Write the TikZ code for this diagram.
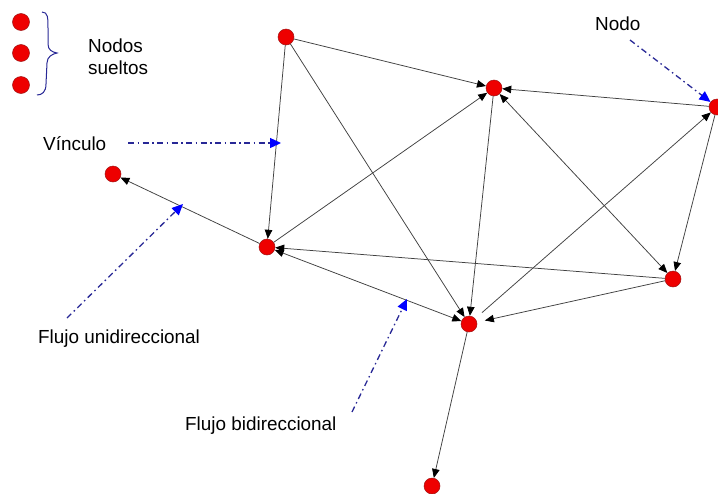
\documentclass[tikz,border=0pt]{standalone}
\usepackage{fontspec}
\setmainfont{Liberation Sans}
\usetikzlibrary{arrows.meta}
\definecolor{nodered}{RGB}{238,0,0}
\definecolor{nodeedge}{RGB}{160,20,20}
\definecolor{notecol}{RGB}{40,40,150}
\definecolor{tipblue}{RGB}{0,0,255}
\begin{document}
\begin{tikzpicture}[x=1pt,y=-1pt,
  vertex/.style={circle,fill=nodered,draw=nodeedge,line width=0.5pt,minimum size=16pt,inner sep=0pt},
  link/.style={draw=black!75,line width=0.75pt,-{Triangle[length=9pt,width=7.5pt,color=black]}},
  both/.style={draw=black!75,line width=0.75pt,{Triangle[length=9pt,width=7.5pt,color=black]}-{Triangle[length=9pt,width=7.5pt,color=black]}},
  note/.style={draw=notecol,line width=1.3pt,dash pattern=on 6pt off 3.5pt on 1.5pt off 3.5pt,-{Triangle[length=11pt,width=10pt,color=tipblue]}},
  txt/.style={font=\fontsize{18.9}{22}\selectfont,inner sep=0pt,anchor=base west}
]
\fill[white] (0,0) rectangle (718,493);
\useasboundingbox (0,0) rectangle (718,493);

% legend: loose nodes and brace
\node[vertex,minimum size=17pt] (l1) at (21,22) {};
\node[vertex,minimum size=17pt] (l2) at (21,53) {};
\node[vertex,minimum size=17pt] (l3) at (21,85) {};
\draw[notecol,line width=1pt] (42,12) .. controls (48,12) and (48,18) .. (48,28) -- (48,44)
  .. controls (48,50) and (52,52) .. (57,53) .. controls (52,54) and (47,57) .. (47,63)
  -- (46,84) .. controls (46,92) and (42,95) .. (37,95);
\node[txt] (loose1) at (88,52) {Nodos};
\node[txt] (loose2) at (88,74) {sueltos};

% network nodes
\node[vertex] (A) at (286,37) {};
\node[vertex] (B) at (494,88) {};
\node[vertex] (C) at (717,107) {};
\node[vertex] (D) at (267,247) {};
\node[vertex] (E) at (113,174) {};
\node[vertex] (F) at (673,279) {};
\node[vertex] (G) at (469,324) {};
\node[vertex] (H) at (432,486) {};

% links
\draw[link] (A) -- (B);
\draw[link] (A) -- (D);
\draw[link] (A) -- (G);
\draw[link] (C) -- (B);
\draw[link] (D) -- (B);
\draw[link] (B) -- (G);
\draw[both] (B) -- (F);
\draw[link] (C) -- (F);
\draw[link,shorten <=9pt] (G) -- (C);
\draw[link] (F) -- (D);
\draw[both] (D) -- (G);
\draw[link] (D) -- (E);
\draw[link,shorten >=8pt] (F) -- (G);
\draw[link] (G) -- (H);

% annotations
\node[txt] (tnodo) at (595,30) {Nodo};
\node[txt] (tvinc) at (43,150) {Vínculo};
\node[txt] (tuni) at (38,343) {Flujo unidireccional};
\node[txt] (tbi) at (185,430) {Flujo bidireccional};

\coordinate (nodoS) at (630,40);
\coordinate (vincS) at (128,143);
\coordinate (vincE) at (281,143);
\coordinate (uniS) at (67,318);
\coordinate (uniE) at (183,204);
\coordinate (biS) at (352,412);
\coordinate (biE) at (407,299);

\draw[note] (nodoS) -- (C);
\draw[note] (vincS) -- (vincE);
\draw[note] (uniS) -- (uniE);
\draw[note] (biS) -- (biE);
\end{tikzpicture}
\end{document}
